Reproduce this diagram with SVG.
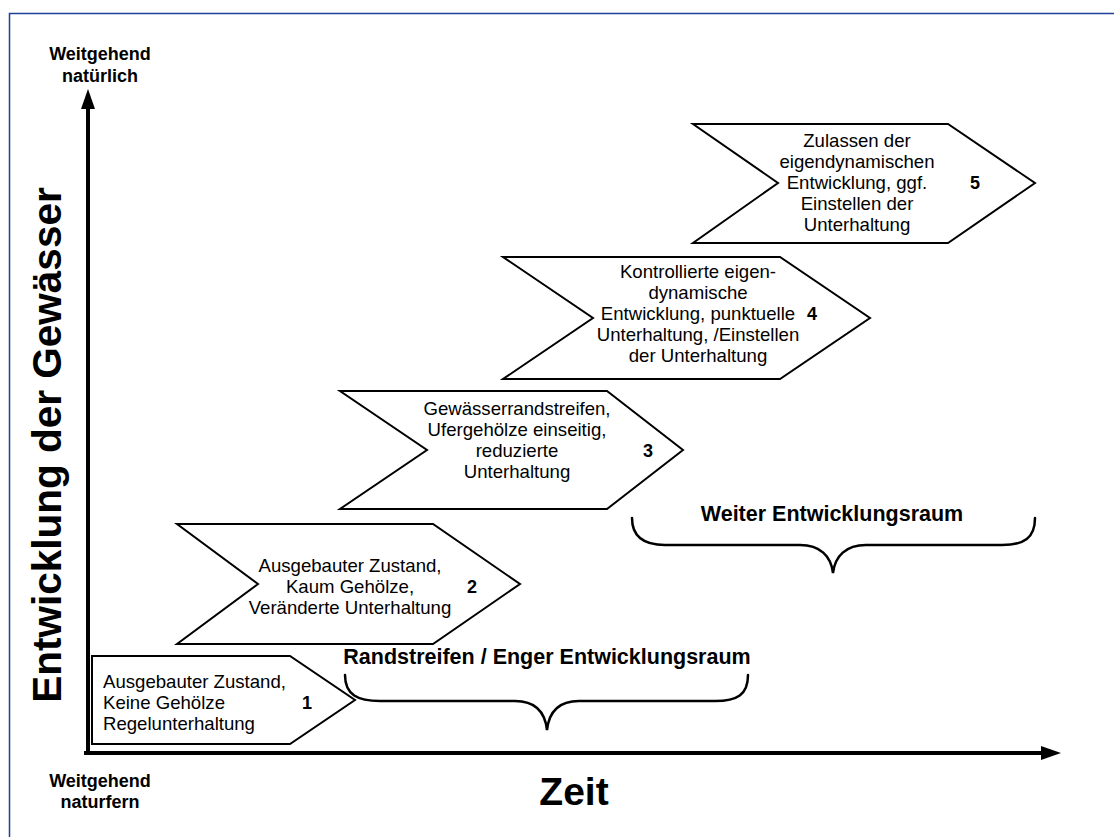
<svg xmlns="http://www.w3.org/2000/svg" width="1114" height="837" viewBox="0 0 1114 837">
<style>
.box{fill:#fff;stroke:#000;stroke-width:2;stroke-linejoin:miter}
.t{font-family:"Liberation Sans",Arial,sans-serif;font-size:18.6px;fill:#000}
.c{text-anchor:middle}
.n{font-family:"Liberation Sans",Arial,sans-serif;font-size:18px;font-weight:bold;text-anchor:middle;fill:#000}
.b{font-family:"Liberation Sans",Arial,sans-serif;font-weight:bold;fill:#000;text-anchor:middle}
.brace{fill:none;stroke:#000;stroke-width:2.5;stroke-linecap:round}
.axis{stroke:#000;stroke-width:4;fill:none}
</style>
<defs>
<marker id="ah" viewBox="0 0 20 14" markerWidth="20" markerHeight="14" refX="1" refY="7" orient="auto" markerUnits="userSpaceOnUse">
<path d="M0,0 L20,7 L0,14 z" fill="#000"/>
</marker>
</defs>
<rect x="0" y="0" width="1114" height="837" fill="#fff"/>
<rect x="9.5" y="13.5" width="1120" height="840" fill="none" stroke="#1f3f99" stroke-width="1.5"/>

<g id="connectors">
<line class="axis" x1="88" y1="755" x2="88" y2="108" marker-end="url(#ah)"/>
<line class="axis" x1="84" y1="753" x2="1042" y2="753" marker-end="url(#ah)"/>
<path class="brace" d="M345,675 C345,695 358,701 380,701 L515,701 C535,701 545,712 547,730 C549,712 559,701 579,701 L715,701 C737,701 748,695 748,675"/>
<path class="brace" d="M632,518 C632,538 645,545 665,545 L800,545 C820,545 831,556 833,573 C835,556 846,545 866,545 L1002,545 C1024,545 1035,538 1035,518"/>
</g>

<g id="labels">
<text class="b" x="100" y="60" font-size="18">Weitgehend</text>
<text class="b" x="100" y="82" font-size="18">natürlich</text>
<text class="b" x="100" y="787" font-size="18">Weitgehend</text>
<text class="b" x="100" y="808" font-size="18">naturfern</text>
<text class="b" x="574" y="805" font-size="39">Zeit</text>
<text class="b" font-size="40.5" transform="translate(61,445) rotate(-90)">Entwicklung der Gewässer</text>
<text class="b" x="547" y="664" font-size="21.5">Randstreifen / Enger Entwicklungsraum</text>
<text class="b" x="832" y="521" font-size="21.5">Weiter Entwicklungsraum</text>
</g>

<g id="node1">
<polygon class="box" points="92,656 290,656 355,700 290,744 92,744"/>
<text class="t" x="103" y="688">Ausgebauter Zustand,</text>
<text class="t" x="103" y="709">Keine Gehölze</text>
<text class="t" x="103" y="730">Regelunterhaltung</text>
<text class="n" x="307" y="709">1</text>
</g>

<g id="node2">
<polygon class="box" points="177,524 433,524 520,584 433,644 177,644 258,584"/>
<text class="t c" x="350" y="572">Ausgebauter Zustand,</text>
<text class="t c" x="350" y="593">Kaum Gehölze,</text>
<text class="t c" x="350" y="614">Veränderte Unterhaltung</text>
<text class="n" x="472" y="593">2</text>
</g>

<g id="node3">
<polygon class="box" points="340,391 607,391 683,450 607,509 340,509 427,450"/>
<text class="t c" x="517" y="415">Gewässerrandstreifen,</text>
<text class="t c" x="517" y="436">Ufergehölze einseitig,</text>
<text class="t c" x="517" y="457">reduzierte</text>
<text class="t c" x="517" y="478">Unterhaltung</text>
<text class="n" x="648" y="457">3</text>
</g>

<g id="node4">
<polygon class="box" points="503,257 780,257 870,318 780,379 503,379 593,318"/>
<text class="t c" x="698" y="278">Kontrollierte eigen-</text>
<text class="t c" x="698" y="299">dynamische</text>
<text class="t c" x="698" y="320">Entwicklung, punktuelle</text>
<text class="t c" x="698" y="341">Unterhaltung, /Einstellen</text>
<text class="t c" x="698" y="362">der Unterhaltung</text>
<text class="n" x="812" y="320">4</text>
</g>

<g id="node5">
<polygon class="box" points="693,124 948,124 1035,183 948,243 693,243 778,183"/>
<text class="t c" x="857" y="147">Zulassen der</text>
<text class="t c" x="857" y="168">eigendynamischen</text>
<text class="t c" x="857" y="189">Entwicklung, ggf.</text>
<text class="t c" x="857" y="210">Einstellen der</text>
<text class="t c" x="857" y="231">Unterhaltung</text>
<text class="n" x="975" y="189">5</text>
</g>
</svg>
